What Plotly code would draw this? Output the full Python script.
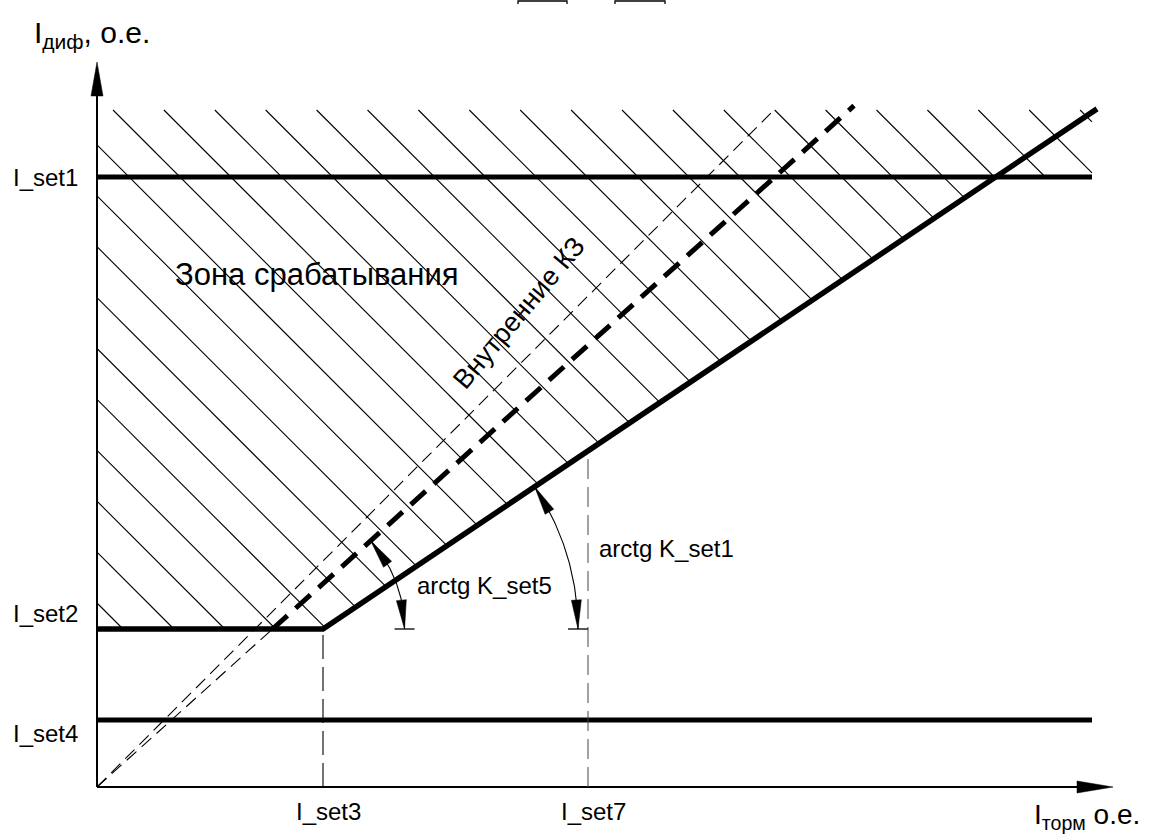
import numpy as np
import plotly.graph_objects as go

# ---- characteristic settings (relative units, о.е.) ----
I_SET1 = 6.10     # differential cut-off
I_SET2 = 1.58     # minimum operating current
I_SET3 = 2.26     # start of restraint section
I_SET4 = 0.67     # sensitive level
I_SET7 = 4.91     # second breakpoint marker
K_SET1 = 0.672    # restraint slope
K_SET5 = 0.90     # internal fault line slope
K_UNITY = 1.0     # thin reference line slope

X_LINE_END = 9.95     # right end of horizontal setting lines
X_SLOPE_END = 10.00   # right end of restraint slope
Y_HATCH_TOP = 6.77    # top of the operating zone hatch
X_KZ_END = 7.57       # end of internal fault line
Y_AXIS_TOP = 7.25
X_AXIS_END = 10.16

# hatch pattern
HATCH_STEP = 0.509
HATCH_PHASE = 0.16
HATCH_SLOPE = -1.0

# angle arcs
ARC1_R = 2.55
ARC5_R = 1.32

# tick labels
Y_TICK_LABELS = ["I_set1", "I_set2", "I_set4"]
X_TICK_LABELS = ["I_set3", "I_set7"]

FONT = "Liberation Sans, Arial, sans-serif"
BLACK = "#000000"


def char(x):
    x = np.asarray(x, dtype=float)
    return np.where(x < I_SET3, I_SET2, I_SET2 + K_SET1 * (x - I_SET3))


def lower(x):
    return np.minimum(char(x), I_SET1)


fig = go.Figure()


def add_line(xs, ys, width, dash="solid", color=BLACK):
    fig.add_trace(go.Scatter(x=list(xs), y=list(ys), mode="lines",
                             line=dict(color=color, width=width, dash=dash),
                             hoverinfo="skip", showlegend=False))


def add_tri(tip, direction, length, width):
    d = np.asarray(direction, float)
    d = d / np.linalg.norm(d)
    n = np.array([-d[1], d[0]])
    tip = np.asarray(tip, float)
    base = tip - d * length
    p1 = base + n * width / 2
    p2 = base - n * width / 2
    fig.add_trace(go.Scatter(x=[tip[0], p1[0], p2[0], tip[0]],
                             y=[tip[1], p1[1], p2[1], tip[1]],
                             mode="lines", fill="toself", fillcolor=BLACK,
                             line=dict(color=BLACK, width=0.5),
                             hoverinfo="skip", showlegend=False))


# ---- hatch of the operating zone ----
hx, hy = [], []
for k in range(-12, 25):
    x0 = HATCH_PHASE + k * HATCH_STEP
    xs = max(x0, 0.0)
    ys = Y_HATCH_TOP + HATCH_SLOPE * (xs - x0)
    if xs >= X_LINE_END or ys <= float(lower(xs)):
        continue
    f = lambda x: Y_HATCH_TOP + HATCH_SLOPE * (x - x0) - float(lower(x))
    if f(X_LINE_END) > 0:
        xe = X_LINE_END
    else:
        a, b = xs, X_LINE_END
        for _ in range(60):
            m = 0.5 * (a + b)
            if f(m) > 0:
                a = m
            else:
                b = m
        xe = 0.5 * (a + b)
    ye = Y_HATCH_TOP + HATCH_SLOPE * (xe - x0)
    hx += [xs, xe, None]
    hy += [ys, ye, None]
add_line(hx, hy, 1.1)

# ---- axes ----
add_line([0, 0], [0, Y_AXIS_TOP - 0.3], 2)
add_line([0, X_AXIS_END - 0.3], [0, 0], 2)
add_tri((0, Y_AXIS_TOP), (0, 1), 0.34, 0.12)
add_tri((X_AXIS_END, 0), (1, 0), 0.36, 0.12)

# ---- setting lines ----
add_line([0, X_LINE_END], [I_SET1, I_SET1], 5)
add_line([0, X_LINE_END], [I_SET4, I_SET4], 5)
xc = [0, I_SET3, X_SLOPE_END]
add_line(xc, list(char(xc)), 5.5)

# ---- reference / internal fault lines ----
add_line([0, Y_HATCH_TOP / K_UNITY], [0, Y_HATCH_TOP], 1.1, dash="13px,7px")
x_kz0 = I_SET2 / K_SET5
add_line([0, x_kz0], [0, I_SET2], 1.1, dash="13px,7px")
add_line([x_kz0, X_KZ_END], [I_SET2, K_SET5 * X_KZ_END], 5, dash="20px,11px")

# ---- vertical markers ----
add_line([I_SET3, I_SET3], [0, I_SET2], 1.1, dash="24px,8px")
add_line([I_SET7, I_SET7], [0, float(char(I_SET7))], 1.0, dash="20px,8px", color="#444444")

# ---- angle arcs ----
for cx, r, k in [(I_SET3, ARC1_R, K_SET1), (x_kz0, ARC5_R, K_SET5)]:
    th_max = np.arctan(k)
    th = np.linspace(0, th_max, 80)
    ax_ = cx + r * np.cos(th)
    ay_ = I_SET2 + r * np.sin(th)
    add_line(ax_, ay_, 1.1)
    L = 0.29
    # bottom arrow
    tb = np.array([cx + r, I_SET2])
    bb = np.array([cx + r * np.cos(L / r), I_SET2 + r * np.sin(L / r)])
    add_tri(tb, tb - bb, L, 0.10)
    # top arrow
    tt = np.array([cx + r * np.cos(th_max), I_SET2 + r * np.sin(th_max)])
    bt = np.array([cx + r * np.cos(th_max - L / r), I_SET2 + r * np.sin(th_max - L / r)])
    add_tri(tt, tt - bt, L, 0.10)
    # tee
    add_line([cx + r - 0.10, cx + r + 0.10], [I_SET2, I_SET2], 1.3)

# ---- cut-off brackets at top edge ----
for xa, xb in [(4.21, 4.70), (5.18, 5.68)]:
    add_line([xa, xa, xb, xb], [7.83, 7.86, 7.86, 7.83], 1.3)

# ---- text ----
ann = []


def text(x, y, s, size, xa="center", ya="middle", angle=0):
    ann.append(dict(x=x, y=y, xref="x", yref="y", text=s, showarrow=False,
                    xanchor=xa, yanchor=ya, textangle=angle,
                    font=dict(family=FONT, size=size, color=BLACK)))


text(-0.86, I_SET1, Y_TICK_LABELS[0], 24, xa="left")
text(-0.86, I_SET2 + 0.16, Y_TICK_LABELS[1], 24, xa="left")
text(-0.86, I_SET4 - 0.13, Y_TICK_LABELS[2], 24, xa="left")
text(I_SET3 + 0.05, -0.24, X_TICK_LABELS[0], 24)
text(I_SET7 + 0.05, -0.24, X_TICK_LABELS[1], 24)
text(-0.65, 7.53, "I<sub>диф</sub>, о.е.", 30, xa="left")
text(10.45, -0.29, "I<sub>торм</sub> о.е.", 28, xa="right")
text(2.20, 5.13, "Зона срабатывания", 31)
text(4.22, 4.74, "Внутренние КЗ", 27, angle=-50)
text(3.18, 2.02, "arctg K_set5", 24, xa="left")
text(5.00, 2.39, "arctg K_set1", 24, xa="left")

fig.update_layout(
    width=1149, height=836, autosize=False,
    margin=dict(l=0, r=0, t=0, b=0),
    paper_bgcolor="white", plot_bgcolor="white",
    xaxis=dict(range=[-0.97, 10.52], visible=False, fixedrange=True),
    yaxis=dict(range=[-0.49, 7.87], visible=False, fixedrange=True),
    annotations=ann, hovermode=False, showlegend=False,
)
fig.write_html("out.html",
               config={"displayModeBar": False, "staticPlot": True},
               post_script="document.body.style.margin='0px';"
                           "document.body.style.overflow='hidden';")
